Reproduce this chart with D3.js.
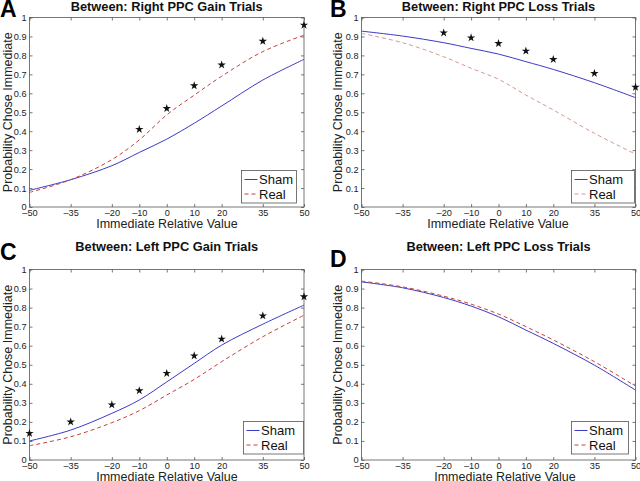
<!DOCTYPE html>
<html><head><meta charset="utf-8">
<script src="https://cdn.jsdelivr.net/npm/d3@7"></script>
<style>body{margin:0;background:#fff}svg{display:block}</style>
</head><body><svg id="c" width="640" height="481"></svg>
<script>
const xVals = [-50, -35, -20, -10, 0, 10, 20, 35, 50];
const xTicks = [-50, -35, -20, -10, 0, 10, 20, 35, 50];
const yTicks = [0, 0.1, 0.2, 0.3, 0.4, 0.5, 0.6, 0.7, 0.8, 0.9, 1];

const titles = ["Between: Right PPC Gain Trials", "Between: Right PPC Loss Trials",
                "Between: Left PPC Gain Trials", "Between: Left PPC Loss Trials"];
const letters = ["A", "B", "C", "D"];

const shamA = [0.088, 0.144, 0.218, 0.288, 0.358, 0.442, 0.533, 0.67, 0.779];
const realA = [0.077, 0.144, 0.25, 0.354, 0.486, 0.59, 0.69, 0.82, 0.907];
const starXA = [-10, 0, 10, 20, 35, 50];
const starYA = [0.41, 0.52, 0.64, 0.75, 0.875, 0.96];

const shamB = [0.928, 0.902, 0.867, 0.837, 0.807, 0.767, 0.726, 0.656, 0.577];
const realB = [0.916, 0.867, 0.793, 0.732, 0.674, 0.591, 0.512, 0.389, 0.279];
const starXB = [-20, -10, 0, 10, 20, 35, 50];
const starYB = [0.919, 0.893, 0.863, 0.823, 0.779, 0.705, 0.632];

const shamC = [0.10, 0.157, 0.245, 0.315, 0.41, 0.507, 0.603, 0.713, 0.813];
const realC = [0.075, 0.122, 0.196, 0.259, 0.341, 0.423, 0.516, 0.647, 0.76];
const starXC = [-50, -35, -20, -10, 0, 10, 20, 35, 50];
const starYC = [0.14, 0.20, 0.29, 0.364, 0.455, 0.547, 0.635, 0.757, 0.857];

const shamD = [0.935, 0.904, 0.853, 0.808, 0.752, 0.682, 0.612, 0.498, 0.367];
const realD = [0.939, 0.909, 0.86, 0.818, 0.766, 0.70, 0.63, 0.516, 0.388];
const starXD = [];
const starYD = [];

const panels = [
  {sham: shamA, real: realA, sx: starXA, sy: starYA, L: 29.5, R: 304, T: 17.5, B: 207, lx: 241.5, ly: 170.5, lw: 55, ox: 0, oy: 0, xlc: 167, ylx: 8, rc: "#c8403c", ly0: 17},
  {sham: shamB, real: realB, sx: starXB, sy: starYB, L: 361.5, R: 635.5, T: 17.5, B: 207, lx: 571.5, ly: 170.5, lw: 63, ox: 320, oy: 0, xlc: 498, ylx: 338, rc: "#d49a8c", ly0: 17},
  {sham: shamC, real: realC, sx: starXC, sy: starYC, L: 29.5, R: 304, T: 269.5, B: 460, lx: 243.5, ly: 421.5, lw: 60, ox: 0, oy: 240, xlc: 167, ylx: 8, rc: "#c8403c", ly0: 260},
  {sham: shamD, real: realD, sx: starXD, sy: starYD, L: 361.5, R: 635.5, T: 269.5, B: 460, lx: 571.5, ly: 421.5, lw: 57, ox: 320, oy: 240, xlc: 505, ylx: 338, rc: "#c8403c", ly0: 267}
];

const svg = d3.select("#c");
const font = "Liberation Sans, Arial, Helvetica, sans-serif";
const shamColor = "#3a3ac8";

panels.forEach((p, i) => {
  const x = d3.scaleLinear().domain([-50, 50]).range([p.L, p.R]);
  const y = d3.scaleLinear().domain([0, 1]).range([p.B, p.T]);
  const g = svg.append("g");

  g.append("rect").attr("x", p.L).attr("y", p.T).attr("width", p.R - p.L).attr("height", p.B - p.T)
    .attr("fill", "none").attr("stroke", "#555").attr("stroke-width", 0.8);

  const tf = d => d < 0 ? "\u2013" + Math.abs(d) : String(d);
  const xb = g.append("g").attr("transform", `translate(0,${p.B})`)
    .call(d3.axisBottom(x).tickValues(xTicks).tickSize(-3).tickPadding(5).tickFormat(tf));
  const xt = g.append("g").attr("transform", `translate(0,${p.T})`)
    .call(d3.axisTop(x).tickValues(xTicks).tickSize(-3).tickFormat(""));
  const yl = g.append("g").attr("transform", `translate(${p.L},0)`)
    .call(d3.axisLeft(y).tickValues(yTicks).tickSize(-3).tickPadding(3).tickFormat(d => d3.format("~g")(d)));
  const yr = g.append("g").attr("transform", `translate(${p.R},0)`)
    .call(d3.axisRight(y).tickValues(yTicks).tickSize(-3).tickFormat(""));
  [xb, xt, yl, yr].forEach(a => {
    a.select(".domain").remove();
    a.selectAll(".tick line").attr("stroke", "#555").attr("stroke-width", 0.8);
    a.selectAll("text").attr("font-family", font).attr("font-size", 9.2).attr("fill", "#222");
  });
  xb.selectAll("text").attr("dy", "0.35em").attr("y", 6);

  const pts = arr => xVals.map((v, k) => [v, arr[k]]);
  const line = d3.line().x(d => x(d[0])).y(d => y(d[1])).curve(d3.curveCatmullRom.alpha(0.5));
  g.append("path").attr("d", line(pts(p.sham))).attr("fill", "none").attr("stroke", shamColor).attr("stroke-width", 1);
  g.append("path").attr("d", line(pts(p.real))).attr("fill", "none").attr("stroke", p.rc).attr("stroke-width", 1)
    .attr("stroke-dasharray", "4,3");

  const star = d3.symbol().type(d3.symbolStar).size(22);
  p.sx.forEach((v, k) => {
    g.append("path").attr("d", star()).attr("transform", `translate(${x(v)},${y(p.sy[k])})`).attr("fill", "#111");
  });

  const lg = g.append("g").attr("transform", `translate(${p.lx},${p.ly})`);
  lg.append("rect").attr("width", p.lw).attr("height", 32.5).attr("fill", "#fff").attr("stroke", "#555").attr("stroke-width", 0.8);
  lg.append("line").attr("x1", 3).attr("x2", 16).attr("y1", 9).attr("y2", 9).attr("stroke", shamColor).attr("stroke-width", 1);
  lg.append("line").attr("x1", 3).attr("x2", 16).attr("y1", 23.5).attr("y2", 23.5).attr("stroke", p.rc).attr("stroke-width", 1).attr("stroke-dasharray", "4,3");
  lg.append("text").attr("x", 17.5).attr("y", 13.5).text("Sham").attr("font-family", font).attr("font-size", 13).attr("fill", "#111");
  lg.append("text").attr("x", 17.5).attr("y", 28).text("Real").attr("font-family", font).attr("font-size", 13).attr("fill", "#111");

  g.append("text").attr("x", (p.L + p.R) / 2).attr("y", p.oy + 10.5).attr("text-anchor", "middle")
    .attr("font-family", font).attr("font-weight", "bold").attr("font-size", 12.8).attr("fill", "#111").text(titles[i]);
  g.append("text").attr("x", p.ox + (i % 2 ? 10 : 0)).attr("y", p.ly0)
    .attr("font-family", font).attr("font-weight", "bold").attr("font-size", 23).attr("fill", "#000").text(letters[i]);
  g.append("text").attr("x", p.xlc).attr("y", p.B + 21).attr("text-anchor", "middle")
    .attr("font-family", font).attr("font-size", 12.5).attr("fill", "#222").text("Immediate Relative Value");
  g.append("text").attr("transform", `translate(${p.ylx},${(p.T + p.B) / 2}) rotate(-90)`).attr("text-anchor", "middle")
    .attr("dy", "0.35em")
    .attr("font-family", font).attr("font-size", 12.5).attr("fill", "#222").text("Probability Chose Immediate");
});
</script></body></html>
